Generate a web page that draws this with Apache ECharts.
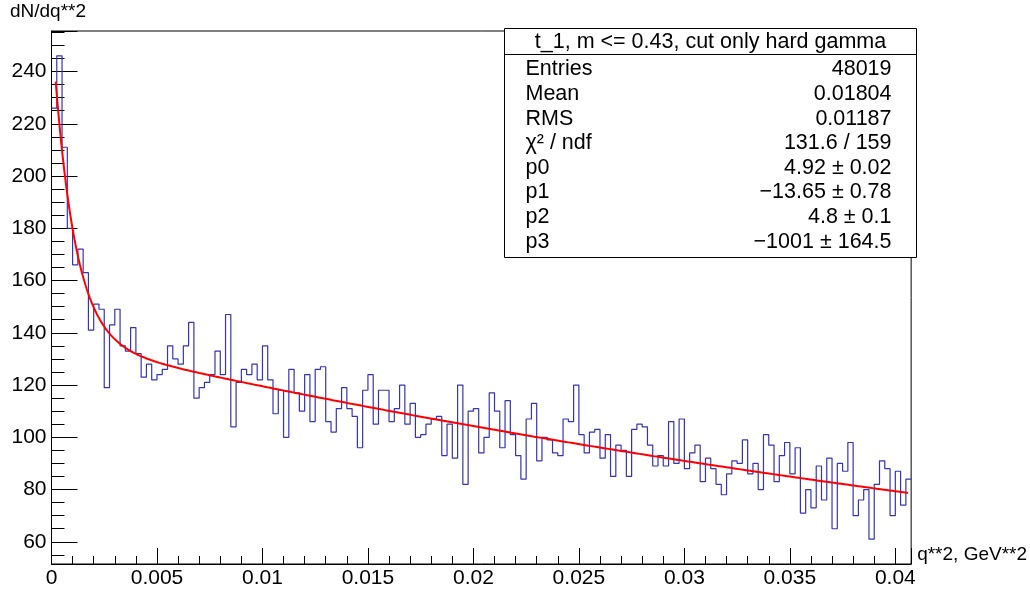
<!DOCTYPE html>
<html>
<head>
<meta charset="utf-8">
<script src="https://cdn.jsdelivr.net/npm/echarts@6/dist/echarts.min.js"></script>
<style>
html, body { margin: 0; padding: 0; background: #fff; }
#chart { width: 1030px; height: 591px; }
</style>
</head>
<body>
<div id="chart"></div>
<script>
// q^2 spectrum, 163 bins of 0.00025 GeV^2 starting at 0
const binWidth = 0.00025;
const binCounts = [
  226, 246, 211, 180, 166, 172, 163, 141, 151, 149,
  119, 143, 149, 135, 133, 142, 132, 123, 128, 122,
  124, 126, 135, 130, 128, 135, 144, 115, 119, 121,
  124, 133, 124, 147, 104, 121, 126, 124, 128, 122,
  135, 122, 109, 118, 100, 126, 117, 110, 124, 106,
  126, 127, 106, 102, 111, 119, 111, 108, 96, 118,
  124, 105, 118, 118, 106, 111, 120, 105, 113, 100,
  101, 105, 107, 108, 93, 105, 92, 120, 82, 110,
  111, 94, 100, 117, 110, 96, 114, 101, 93, 84,
  107, 113, 91, 100, 99, 94, 93, 107, 106, 120,
  101, 94, 102, 103, 92, 101, 85, 97, 95, 85,
  103, 105, 104, 97, 89, 93, 89, 106, 90, 107,
  88, 94, 97, 83, 92, 88, 82, 78, 86, 91,
  90, 99, 86, 90, 80, 101, 97, 83, 93, 98,
  86, 96, 71, 80, 73, 89, 76, 92, 65, 90,
  87, 98, 70, 76, 80, 61, 82, 91, 88, 70,
  87, 74, 84
];

// Fit model: f(x) = exp(p0 + p1*x) + exp(p2 + p3*x)
const fitParams = [4.92, -13.65, 4.8, -1001];
const fitRange = [0.0002, 0.0406];
const fitSamples = 600;

// Stats box text
const statsTitle = 't_1, m <= 0.43, cut only hard gamma';
const statsLabels = ['Entries', 'Mean', 'RMS', 'χ² / ndf', 'p0', 'p1', 'p2', 'p3'];
const statsValues = ['48019', '0.01804', '0.01187', '131.6 / 159', '4.92 ± 0.02',
  '−13.65 ± 0.78', '4.8 ± 0.1', '−1001 ± 164.5'];

const xTitle = 'q**2, GeV**2';
const yTitle = 'dN/dq**2';
const xRange = [0, binCounts.length * binWidth];
const yRange = [51.5, 255.5];

const FONT = '"Liberation Sans", Arial, Helvetica, sans-serif';

// Step outline: each point sits on a bin's lower edge, last one closes the final bin
const histPoints = binCounts.map((c, i) => [i * binWidth, c]);
histPoints.push([binCounts.length * binWidth, binCounts[binCounts.length - 1]]);

function fitFunc(x) {
  return Math.exp(fitParams[0] + fitParams[1] * x) + Math.exp(fitParams[2] + fitParams[3] * x);
}
const fitPoints = [];
for (let k = 0; k <= fitSamples; k++) {
  const x = fitRange[0] + (fitRange[1] - fitRange[0]) * k / fitSamples;
  fitPoints.push([x, fitFunc(x)]);
}

// Stats box built from the text arrays
const boxW = 412, boxH = 229, titleH = 26, rowH = 24.4;
const statsFont = '21.5px ' + FONT;
const statsChildren = [
  { type: 'rect', shape: { x: 0, y: 0, width: boxW, height: boxH },
    style: { fill: '#fff', stroke: '#000', lineWidth: 1 } },
  { type: 'line', shape: { x1: 0, y1: titleH, x2: boxW, y2: titleH },
    style: { stroke: '#000', lineWidth: 1 } },
  { type: 'text', x: boxW / 2, y: titleH / 2 + 1,
    style: { text: statsTitle, align: 'center', verticalAlign: 'middle',
      font: statsFont, fill: '#000' } }
];
statsLabels.forEach((lab, i) => {
  const cy = titleH + 15 + i * (rowH + 0.2);
  statsChildren.push({ type: 'text', x: 21, y: cy,
    style: { text: lab, align: 'left', verticalAlign: 'middle', font: statsFont, fill: '#000' } });
  statsChildren.push({ type: 'text', x: boxW - 25, y: cy,
    style: { text: statsValues[i], align: 'right', verticalAlign: 'middle', font: statsFont, fill: '#000' } });
});

const chart = echarts.init(document.getElementById('chart'), null, { renderer: 'canvas' });
chart.setOption({
  animation: false,
  backgroundColor: '#fff',
  grid: { left: 51.5, right: 116.5, top: 31, bottom: 27, show: true,
    borderColor: '#000', borderWidth: 1, backgroundColor: 'transparent' },
  xAxis: {
    type: 'value', min: xRange[0], max: xRange[1],
    minInterval: 0.005, maxInterval: 0.005,
    name: xTitle, nameLocation: 'end', nameGap: 6,
    nameTextStyle: { fontFamily: FONT, fontSize: 19, color: '#000', align: 'left',
      verticalAlign: 'bottom', padding: [0, 0, 0, 0] },
    axisLine: { show: true, onZero: false, lineStyle: { color: '#000', width: 1 } },
    axisTick: { show: true, inside: true, length: 16, lineStyle: { color: '#000', width: 1 } },
    minorTick: { show: true, splitNumber: 5, length: 8, lineStyle: { color: '#000', width: 1 } },
    axisLabel: { fontFamily: FONT, fontSize: 21, color: '#000', margin: 4,
      showMinLabel: true, showMaxLabel: false,
      formatter: v => (v > 0.0405 ? '' : String(+v.toFixed(4))) },
    splitLine: { show: false }
  },
  yAxis: {
    type: 'value', min: yRange[0], max: yRange[1],
    minInterval: 20, maxInterval: 20,
    name: yTitle, nameLocation: 'end', nameGap: 10,
    nameTextStyle: { fontFamily: FONT, fontSize: 19, color: '#000', align: 'center',
      padding: [0, 7, 0, 0] },
    axisLine: { show: true, onZero: false, lineStyle: { color: '#000', width: 1 } },
    axisTick: { show: true, inside: true, length: 26, lineStyle: { color: '#000', width: 1 } },
    minorTick: { show: true, splitNumber: 4, length: 13, lineStyle: { color: '#000', width: 1 } },
    axisLabel: { fontFamily: FONT, fontSize: 21, color: '#000', margin: 5,
      showMinLabel: false, showMaxLabel: false,
      formatter: v => (v % 20 === 0 ? String(v) : '') },
    splitLine: { show: false }
  },
  series: [
    {
      type: 'line', name: 'hist', data: histPoints, step: 'end',
      symbol: 'none', clip: true,
      lineStyle: { color: '#3434b8', width: 1.2 }, z: 2
    },
    {
      type: 'line', name: 'fit', data: fitPoints, smooth: false,
      symbol: 'none', clip: true,
      lineStyle: { color: '#ff0000', width: 2 }, z: 3
    }
  ],
  graphic: [
    { type: 'group', left: 502, top: 28, z: 100, children: statsChildren }
  ]
});
</script>
</body>
</html>
